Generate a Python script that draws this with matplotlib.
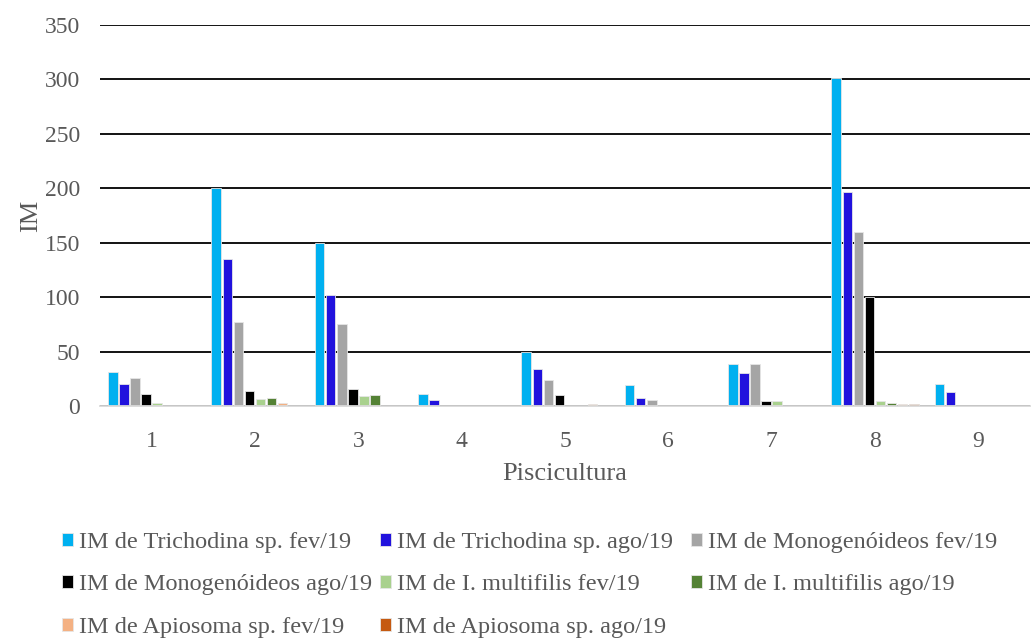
import numpy as np
import matplotlib.pyplot as plt

plt.rcParams['font.family'] = ['Liberation Serif', 'DejaVu Serif']

# Pisciculturas 1..9
pisciculturas = ['1', '2', '3', '4', '5', '6', '7', '8', '9']

series_names = [
    'IM de Trichodina sp. fev/19',
    'IM de Trichodina sp. ago/19',
    'IM de Monogenóideos fev/19',
    'IM de Monogenóideos ago/19',
    'IM de I. multifilis fev/19',
    'IM de I. multifilis ago/19',
    'IM de Apiosoma sp. fev/19',
    'IM de Apiosoma sp. ago/19',
]

trich_fev = [31, 200, 150, 11, 50, 19, 39, 301, 20]
trich_ago = [20, 135, 102, 5.5, 34, 7, 30, 197, 13]
mono_fev = [25.5, 77, 75, 0, 24, 5.5, 39, 160, 0]
mono_ago = [11, 14, 16, 0, 10, 0, 5, 100, 0]
ich_fev = [3, 6, 9.5, 0, 0, 0, 5, 4.3, 0]
ich_ago = [0, 7.3, 10.4, 0, 0, 0, 0, 3, 0]
apio_fev = [0, 2.5, 0, 0, 2, 0, 0, 2, 0]
apio_ago = [0, 0, 0, 0, 0, 0, 0, 2, 0]

values = [trich_fev, trich_ago, mono_fev, mono_ago,
          ich_fev, ich_ago, apio_fev, apio_ago]
colors = ['#00B0F0', '#2112DD', '#A5A5A5', '#000000',
          '#A9D18E', '#548235', '#F4B183', '#C55A11']
text_color = '#595959'

fig = plt.figure(figsize=(10.36, 6.4), dpi=100)
ax = fig.add_axes([100 / 1036, 1 - 406 / 640, 930 / 1036, 381 / 640])

x = np.arange(len(pisciculturas))
n = len(values)
step = 0.107
width = 0.093
handles = []
for i, (vals, c) in enumerate(zip(values, colors)):
    offs = (i - (n - 1) / 2) * step
    b = ax.bar(x + offs, vals, width, color=c, edgecolor='#E6E6E6',
               linewidth=0.6, label=series_names[i], zorder=3)
    handles.append(b)

ax.set_xlim(-0.5, len(pisciculturas) - 0.5)
ax.set_ylim(0, 350)
ax.set_yticks(np.arange(0, 351, 50))
ax.set_xticks(x)
ax.set_xticklabels(pisciculturas)
ax.yaxis.grid(True, color='black', linewidth=1.3, zorder=0)
for s in ['top', 'right', 'left']:
    ax.spines[s].set_visible(False)
ax.spines['bottom'].set_color('#D9D9D9')
ax.spines['bottom'].set_linewidth(1.3)
ax.spines['bottom'].set_zorder(4)
ax.tick_params(axis='both', length=0, labelsize=17, colors=text_color)
ax.tick_params(axis='y', pad=14.5)
ax.tick_params(axis='x', pad=18)
ax.set_ylabel('IM', fontsize=19, color=text_color, labelpad=1.5)
ax.set_xlabel('Piscicultura', fontsize=19, color=text_color, labelpad=8)

# legend: three fixed-width columns, filled row by row
col_x = [62, 380, 691]
for col in range(3):
    idx = list(range(col, len(series_names), 3))
    fig.legend([handles[k] for k in idx], [series_names[k] for k in idx],
               loc='upper left', bbox_to_anchor=(col_x[col] / 1036, 1 - 532 / 640),
               frameon=False, fontsize=17.5, handlelength=0.45,
               handleheight=0.45, handletextpad=0.25, labelspacing=0.88,
               labelcolor=text_color, borderaxespad=0, borderpad=0)

fig.savefig('out.png', dpi=100)
